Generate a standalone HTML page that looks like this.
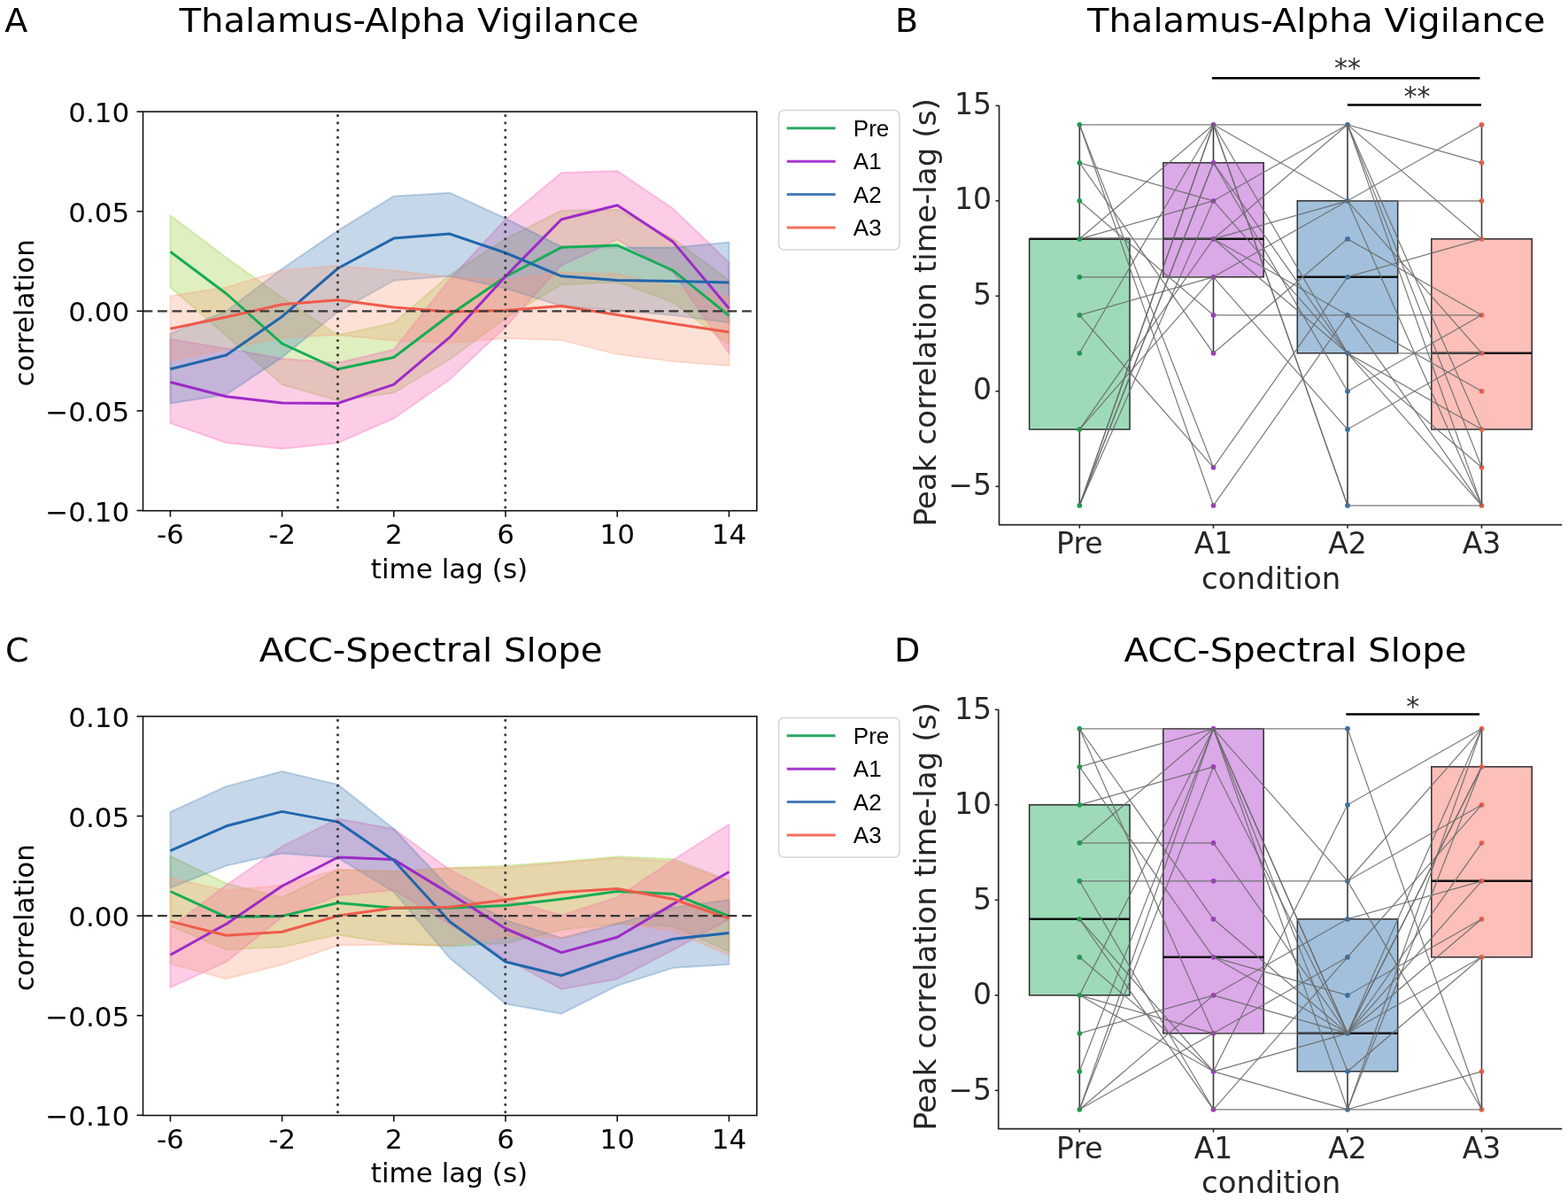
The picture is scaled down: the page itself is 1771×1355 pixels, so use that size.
<!DOCTYPE html>
<html><head><meta charset="utf-8"><title>Figure</title>
<style>html,body{margin:0;padding:0;background:#fff;} svg{display:block;}</style>
</head><body>
<svg width="1771" height="1355" viewBox="0 0 1771 1355">
<rect width="1771" height="1355" fill="#fff"/>
<defs><clipPath id="clipA"><rect x="161.5" y="126.1" width="693.3" height="450.6"/></clipPath></defs>
<g clip-path="url(#clipA)">
<path d="M192.40,243.20 L255.50,290.80 L318.60,336.00 L381.70,378.30 L444.80,364.50 L507.90,310.60 L571.00,269.60 L634.10,237.70 L697.20,236.70 L760.30,269.60 L823.40,316.40 L823.40,389.10 L760.30,341.30 L697.20,318.40 L634.10,321.40 L571.00,359.20 L507.90,406.00 L444.80,443.60 L381.70,452.40 L318.60,434.20 L255.50,379.00 L192.40,324.60 Z" fill="#94ca30" fill-opacity="0.3" stroke="#94ca30" stroke-opacity="0.3" stroke-width="2.0" stroke-linejoin="round"/>
<path d="M192.40,383.00 L255.50,393.50 L318.60,405.00 L381.70,409.70 L444.80,394.70 L507.90,315.60 L571.00,247.70 L634.10,194.90 L697.20,192.90 L760.30,235.70 L823.40,296.50 L823.40,399.10 L760.30,307.50 L697.20,270.60 L634.10,299.50 L571.00,369.20 L507.90,428.60 L444.80,472.50 L381.70,500.10 L318.60,506.70 L255.50,500.00 L192.40,477.90 Z" fill="#f858b2" fill-opacity="0.3" stroke="#f858b2" stroke-opacity="0.3" stroke-width="2.0" stroke-linejoin="round"/>
<path d="M192.40,376.60 L255.50,351.50 L318.60,303.50 L381.70,260.30 L444.80,221.40 L507.90,217.70 L571.00,246.50 L634.10,278.60 L697.20,279.60 L760.30,279.60 L823.40,273.60 L823.40,364.20 L760.30,356.00 L697.20,350.50 L634.10,345.50 L571.00,325.50 L507.90,311.80 L444.80,316.80 L381.70,352.00 L318.60,403.60 L255.50,445.50 L192.40,455.40 Z" fill="#3e7ab2" fill-opacity="0.3" stroke="#3e7ab2" stroke-opacity="0.3" stroke-width="2.0" stroke-linejoin="round"/>
<path d="M192.40,334.30 L255.50,324.60 L318.60,305.30 L381.70,300.00 L444.80,305.50 L507.90,313.10 L571.00,316.60 L634.10,307.50 L697.20,309.40 L760.30,323.40 L823.40,335.30 L823.40,413.00 L760.30,408.00 L697.20,400.10 L634.10,384.10 L571.00,381.90 L507.90,387.10 L444.80,384.60 L381.70,378.30 L318.60,381.00 L255.50,394.30 L192.40,407.60 Z" fill="#f89b7a" fill-opacity="0.3" stroke="#f89b7a" stroke-opacity="0.3" stroke-width="2.0" stroke-linejoin="round"/>
<polyline points="192.40,284.20 255.50,331.50 318.60,388.00 381.70,416.80 444.80,403.50 507.90,355.70 571.00,312.50 634.10,279.30 697.20,277.00 760.30,305.50 823.40,356.30" fill="none" stroke="#16ad55" stroke-width="3.0" stroke-linejoin="round" stroke-linecap="butt" />
<polyline points="192.40,431.50 255.50,447.80 318.60,455.00 381.70,455.40 444.80,434.10 507.90,380.90 571.00,312.00 634.10,247.70 697.20,231.80 760.30,273.20 823.40,348.30" fill="none" stroke="#9e2ac8" stroke-width="3.0" stroke-linejoin="round" stroke-linecap="butt" />
<polyline points="192.40,416.80 255.50,401.00 318.60,357.40 381.70,303.00 444.80,269.10 507.90,264.10 571.00,285.50 634.10,311.80 697.20,316.40 760.30,317.40 823.40,319.00" fill="none" stroke="#2066ad" stroke-width="3.0" stroke-linejoin="round" stroke-linecap="butt" />
<polyline points="192.40,371.20 255.50,358.00 318.60,343.70 381.70,338.80 444.80,347.00 507.90,352.00 571.00,350.60 634.10,345.50 697.20,355.50 760.30,365.50 823.40,375.00" fill="none" stroke="#ef5b4b" stroke-width="3.0" stroke-linejoin="round" stroke-linecap="butt" />
<line x1="161.50" y1="351.30" x2="854.80" y2="351.30" stroke="#383838" stroke-width="2.3" stroke-dasharray="10.8,5.7"/>
<line x1="381.50" y1="126.10" x2="381.50" y2="576.70" stroke="#404040" stroke-width="3.2" stroke-dasharray="0.01,8.18" stroke-dashoffset="-4.5" stroke-linecap="round"/>
<line x1="570.80" y1="126.10" x2="570.80" y2="576.70" stroke="#404040" stroke-width="3.2" stroke-dasharray="0.01,8.18" stroke-dashoffset="-4.5" stroke-linecap="round"/>
</g>
<rect x="161.5" y="126.1" width="693.3" height="450.6" fill="none" stroke="#111" stroke-width="1.6"/>
<line x1="192.40" y1="576.70" x2="192.40" y2="583.70" stroke="#111" stroke-width="1.6" />
<text x="192.4" y="614.3" font-size="31" text-anchor="middle" fill="#000" font-family="'DejaVu Sans', 'Liberation Sans', sans-serif" >-6</text>
<line x1="318.60" y1="576.70" x2="318.60" y2="583.70" stroke="#111" stroke-width="1.6" />
<text x="318.6" y="614.3" font-size="31" text-anchor="middle" fill="#000" font-family="'DejaVu Sans', 'Liberation Sans', sans-serif" >-2</text>
<line x1="444.80" y1="576.70" x2="444.80" y2="583.70" stroke="#111" stroke-width="1.6" />
<text x="444.8" y="614.3" font-size="31" text-anchor="middle" fill="#000" font-family="'DejaVu Sans', 'Liberation Sans', sans-serif" >2</text>
<line x1="571.00" y1="576.70" x2="571.00" y2="583.70" stroke="#111" stroke-width="1.6" />
<text x="571.0" y="614.3" font-size="31" text-anchor="middle" fill="#000" font-family="'DejaVu Sans', 'Liberation Sans', sans-serif" >6</text>
<line x1="697.20" y1="576.70" x2="697.20" y2="583.70" stroke="#111" stroke-width="1.6" />
<text x="697.2" y="614.3" font-size="31" text-anchor="middle" fill="#000" font-family="'DejaVu Sans', 'Liberation Sans', sans-serif" >10</text>
<line x1="823.40" y1="576.70" x2="823.40" y2="583.70" stroke="#111" stroke-width="1.6" />
<text x="823.4" y="614.3" font-size="31" text-anchor="middle" fill="#000" font-family="'DejaVu Sans', 'Liberation Sans', sans-serif" >14</text>
<line x1="154.50" y1="126.10" x2="161.50" y2="126.10" stroke="#111" stroke-width="1.6" />
<text x="146.3" y="138.2" font-size="31" text-anchor="end" fill="#000" font-family="'DejaVu Sans', 'Liberation Sans', sans-serif" >0.10</text>
<line x1="154.50" y1="238.70" x2="161.50" y2="238.70" stroke="#111" stroke-width="1.6" />
<text x="146.3" y="250.8" font-size="31" text-anchor="end" fill="#000" font-family="'DejaVu Sans', 'Liberation Sans', sans-serif" >0.05</text>
<line x1="154.50" y1="351.30" x2="161.50" y2="351.30" stroke="#111" stroke-width="1.6" />
<text x="146.3" y="363.4" font-size="31" text-anchor="end" fill="#000" font-family="'DejaVu Sans', 'Liberation Sans', sans-serif" >0.00</text>
<line x1="154.50" y1="463.90" x2="161.50" y2="463.90" stroke="#111" stroke-width="1.6" />
<text x="146.3" y="476.0" font-size="31" text-anchor="end" fill="#000" font-family="'DejaVu Sans', 'Liberation Sans', sans-serif" >−0.05</text>
<line x1="154.50" y1="576.50" x2="161.50" y2="576.50" stroke="#111" stroke-width="1.6" />
<text x="146.3" y="588.6" font-size="31" text-anchor="end" fill="#000" font-family="'DejaVu Sans', 'Liberation Sans', sans-serif" >−0.10</text>
<text x="507.5" y="652.6" font-size="31" text-anchor="middle" fill="#000" font-family="'DejaVu Sans', 'Liberation Sans', sans-serif" >time lag (s)</text>
<text x="37.8" y="353.4" font-size="31" text-anchor="middle" fill="#000" font-family="'DejaVu Sans', 'Liberation Sans', sans-serif" transform="rotate(-90 37.8 353.4)" >correlation</text>
<text x="202.5" y="35.6" font-size="38" text-anchor="start" fill="#000" font-family="'DejaVu Sans', 'Liberation Sans', sans-serif" textLength="519.0" lengthAdjust="spacingAndGlyphs" >Thalamus-Alpha Vigilance</text>
<text x="5.2" y="35.6" font-size="38" text-anchor="start" fill="#000" font-family="'DejaVu Sans', 'Liberation Sans', sans-serif" >A</text>
<rect x="879.5" y="124.5" width="136.5" height="157.5" rx="6" ry="6" fill="#fff" fill-opacity="0.8" stroke="#d6d6d6" stroke-width="1.6"/>
<line x1="888.70" y1="144.70" x2="943.60" y2="144.70" stroke="#2aa862" stroke-width="3.0" />
<text x="963.8" y="153.7" font-size="26" text-anchor="start" fill="#000" font-family="'Liberation Sans', Arial, sans-serif" >Pre</text>
<line x1="888.70" y1="182.15" x2="943.60" y2="182.15" stroke="#a638d0" stroke-width="3.0" />
<text x="963.8" y="191.1" font-size="26" text-anchor="start" fill="#000" font-family="'Liberation Sans', Arial, sans-serif" >A1</text>
<line x1="888.70" y1="219.60" x2="943.60" y2="219.60" stroke="#4a7db8" stroke-width="3.0" />
<text x="963.8" y="228.6" font-size="26" text-anchor="start" fill="#000" font-family="'Liberation Sans', Arial, sans-serif" >A2</text>
<line x1="888.70" y1="257.05" x2="943.60" y2="257.05" stroke="#f2705e" stroke-width="3.0" />
<text x="963.8" y="266.1" font-size="26" text-anchor="start" fill="#000" font-family="'Liberation Sans', Arial, sans-serif" >A3</text>
<defs><clipPath id="clipC"><rect x="161.5" y="808.9" width="693.3" height="450.6"/></clipPath></defs>
<g clip-path="url(#clipC)">
<path d="M192.40,966.60 L255.50,997.50 L318.60,1013.50 L381.70,982.00 L444.80,984.00 L507.90,980.00 L571.00,977.50 L634.10,972.90 L697.20,967.20 L760.30,970.10 L823.40,994.00 L823.40,1074.70 L760.30,1046.00 L697.20,1043.00 L634.10,1050.00 L571.00,1065.00 L507.90,1068.40 L444.80,1065.50 L381.70,1055.50 L318.60,1069.30 L255.50,1072.30 L192.40,1045.40 Z" fill="#94ca30" fill-opacity="0.3" stroke="#94ca30" stroke-opacity="0.3" stroke-width="2.0" stroke-linejoin="round"/>
<path d="M192.40,1047.40 L255.50,999.50 L318.60,955.70 L381.70,924.60 L444.80,936.00 L507.90,982.00 L571.00,1015.20 L634.10,1033.40 L697.20,1013.20 L760.30,971.00 L823.40,930.70 L823.40,1038.00 L760.30,1072.70 L697.20,1105.40 L634.10,1116.90 L571.00,1082.30 L507.90,1043.50 L444.80,1005.00 L381.70,1011.20 L318.60,1035.40 L255.50,1086.20 L192.40,1115.10 Z" fill="#f858b2" fill-opacity="0.3" stroke="#f858b2" stroke-opacity="0.3" stroke-width="2.0" stroke-linejoin="round"/>
<path d="M192.40,916.80 L255.50,887.90 L318.60,871.00 L381.70,885.90 L444.80,936.00 L507.90,1003.20 L571.00,1039.00 L634.10,1059.30 L697.20,1043.00 L760.30,1024.80 L823.40,1016.10 L823.40,1089.10 L760.30,1092.90 L697.20,1113.10 L634.10,1144.70 L571.00,1133.40 L507.90,1081.80 L444.80,1007.00 L381.70,968.60 L318.60,963.60 L255.50,977.60 L192.40,1002.50 Z" fill="#3e7ab2" fill-opacity="0.3" stroke="#3e7ab2" stroke-opacity="0.3" stroke-width="2.0" stroke-linejoin="round"/>
<path d="M192.40,991.60 L255.50,1005.50 L318.60,999.50 L381.70,982.00 L444.80,984.00 L507.90,980.20 L571.00,979.70 L634.10,973.90 L697.20,969.10 L760.30,972.90 L823.40,995.00 L823.40,1078.50 L760.30,1051.60 L697.20,1042.00 L634.10,1059.30 L571.00,1057.00 L507.90,1067.50 L444.80,1066.50 L381.70,1067.50 L318.60,1089.20 L255.50,1105.20 L192.40,1088.20 Z" fill="#f89b7a" fill-opacity="0.3" stroke="#f89b7a" stroke-opacity="0.3" stroke-width="2.0" stroke-linejoin="round"/>
<polyline points="192.40,1006.50 255.50,1035.40 318.60,1034.40 381.70,1019.50 444.80,1025.30 507.90,1025.30 571.00,1022.60 634.10,1015.20 697.20,1006.50 760.30,1009.40 823.40,1034.40" fill="none" stroke="#16ad55" stroke-width="3.0" stroke-linejoin="round" stroke-linecap="butt" />
<polyline points="192.40,1078.30 255.50,1043.40 318.60,1000.50 381.70,968.00 444.80,970.60 507.90,1008.90 571.00,1048.50 634.10,1075.60 697.20,1058.30 760.30,1020.90 823.40,984.50" fill="none" stroke="#9e2ac8" stroke-width="3.0" stroke-linejoin="round" stroke-linecap="butt" />
<polyline points="192.40,960.70 255.50,932.80 318.60,916.40 381.70,928.10 444.80,971.50 507.90,1040.60 571.00,1086.00 634.10,1101.50 697.20,1079.50 760.30,1060.30 823.40,1053.60" fill="none" stroke="#2066ad" stroke-width="3.0" stroke-linejoin="round" stroke-linecap="butt" />
<polyline points="192.40,1040.40 255.50,1056.30 318.60,1052.30 381.70,1034.10 444.80,1025.30 507.90,1024.30 571.00,1015.90 634.10,1007.50 697.20,1003.60 760.30,1015.20 823.40,1037.20" fill="none" stroke="#ef5b4b" stroke-width="3.0" stroke-linejoin="round" stroke-linecap="butt" />
<line x1="161.50" y1="1034.10" x2="854.80" y2="1034.10" stroke="#383838" stroke-width="2.3" stroke-dasharray="10.8,5.7"/>
<line x1="381.50" y1="808.90" x2="381.50" y2="1259.50" stroke="#404040" stroke-width="3.2" stroke-dasharray="0.01,8.18" stroke-dashoffset="-4.5" stroke-linecap="round"/>
<line x1="570.80" y1="808.90" x2="570.80" y2="1259.50" stroke="#404040" stroke-width="3.2" stroke-dasharray="0.01,8.18" stroke-dashoffset="-4.5" stroke-linecap="round"/>
</g>
<rect x="161.5" y="808.9" width="693.3" height="450.6" fill="none" stroke="#111" stroke-width="1.6"/>
<line x1="192.40" y1="1259.50" x2="192.40" y2="1266.50" stroke="#111" stroke-width="1.6" />
<text x="192.4" y="1297.1" font-size="31" text-anchor="middle" fill="#000" font-family="'DejaVu Sans', 'Liberation Sans', sans-serif" >-6</text>
<line x1="318.60" y1="1259.50" x2="318.60" y2="1266.50" stroke="#111" stroke-width="1.6" />
<text x="318.6" y="1297.1" font-size="31" text-anchor="middle" fill="#000" font-family="'DejaVu Sans', 'Liberation Sans', sans-serif" >-2</text>
<line x1="444.80" y1="1259.50" x2="444.80" y2="1266.50" stroke="#111" stroke-width="1.6" />
<text x="444.8" y="1297.1" font-size="31" text-anchor="middle" fill="#000" font-family="'DejaVu Sans', 'Liberation Sans', sans-serif" >2</text>
<line x1="571.00" y1="1259.50" x2="571.00" y2="1266.50" stroke="#111" stroke-width="1.6" />
<text x="571.0" y="1297.1" font-size="31" text-anchor="middle" fill="#000" font-family="'DejaVu Sans', 'Liberation Sans', sans-serif" >6</text>
<line x1="697.20" y1="1259.50" x2="697.20" y2="1266.50" stroke="#111" stroke-width="1.6" />
<text x="697.2" y="1297.1" font-size="31" text-anchor="middle" fill="#000" font-family="'DejaVu Sans', 'Liberation Sans', sans-serif" >10</text>
<line x1="823.40" y1="1259.50" x2="823.40" y2="1266.50" stroke="#111" stroke-width="1.6" />
<text x="823.4" y="1297.1" font-size="31" text-anchor="middle" fill="#000" font-family="'DejaVu Sans', 'Liberation Sans', sans-serif" >14</text>
<line x1="154.50" y1="808.90" x2="161.50" y2="808.90" stroke="#111" stroke-width="1.6" />
<text x="146.3" y="821.0" font-size="31" text-anchor="end" fill="#000" font-family="'DejaVu Sans', 'Liberation Sans', sans-serif" >0.10</text>
<line x1="154.50" y1="921.50" x2="161.50" y2="921.50" stroke="#111" stroke-width="1.6" />
<text x="146.3" y="933.6" font-size="31" text-anchor="end" fill="#000" font-family="'DejaVu Sans', 'Liberation Sans', sans-serif" >0.05</text>
<line x1="154.50" y1="1034.10" x2="161.50" y2="1034.10" stroke="#111" stroke-width="1.6" />
<text x="146.3" y="1046.2" font-size="31" text-anchor="end" fill="#000" font-family="'DejaVu Sans', 'Liberation Sans', sans-serif" >0.00</text>
<line x1="154.50" y1="1146.70" x2="161.50" y2="1146.70" stroke="#111" stroke-width="1.6" />
<text x="146.3" y="1158.8" font-size="31" text-anchor="end" fill="#000" font-family="'DejaVu Sans', 'Liberation Sans', sans-serif" >−0.05</text>
<line x1="154.50" y1="1259.30" x2="161.50" y2="1259.30" stroke="#111" stroke-width="1.6" />
<text x="146.3" y="1271.4" font-size="31" text-anchor="end" fill="#000" font-family="'DejaVu Sans', 'Liberation Sans', sans-serif" >−0.10</text>
<text x="507.5" y="1335.4" font-size="31" text-anchor="middle" fill="#000" font-family="'DejaVu Sans', 'Liberation Sans', sans-serif" >time lag (s)</text>
<text x="37.8" y="1036.2" font-size="31" text-anchor="middle" fill="#000" font-family="'DejaVu Sans', 'Liberation Sans', sans-serif" transform="rotate(-90 37.8 1036.2)" >correlation</text>
<text x="292.8" y="747.2" font-size="38" text-anchor="start" fill="#000" font-family="'DejaVu Sans', 'Liberation Sans', sans-serif" textLength="387.7" lengthAdjust="spacingAndGlyphs" >ACC-Spectral Slope</text>
<text x="6.0" y="747.2" font-size="38" text-anchor="start" fill="#000" font-family="'DejaVu Sans', 'Liberation Sans', sans-serif" >C</text>
<rect x="879.5" y="810.5" width="136.5" height="157.5" rx="6" ry="6" fill="#fff" fill-opacity="0.8" stroke="#d6d6d6" stroke-width="1.6"/>
<line x1="888.70" y1="830.70" x2="943.60" y2="830.70" stroke="#2aa862" stroke-width="3.0" />
<text x="963.8" y="839.7" font-size="26" text-anchor="start" fill="#000" font-family="'Liberation Sans', Arial, sans-serif" >Pre</text>
<line x1="888.70" y1="868.15" x2="943.60" y2="868.15" stroke="#a638d0" stroke-width="3.0" />
<text x="963.8" y="877.2" font-size="26" text-anchor="start" fill="#000" font-family="'Liberation Sans', Arial, sans-serif" >A1</text>
<line x1="888.70" y1="905.60" x2="943.60" y2="905.60" stroke="#4a7db8" stroke-width="3.0" />
<text x="963.8" y="914.6" font-size="26" text-anchor="start" fill="#000" font-family="'Liberation Sans', Arial, sans-serif" >A2</text>
<line x1="888.70" y1="943.05" x2="943.60" y2="943.05" stroke="#f2705e" stroke-width="3.0" />
<text x="963.8" y="952.1" font-size="26" text-anchor="start" fill="#000" font-family="'Liberation Sans', Arial, sans-serif" >A3</text>
<line x1="1219.30" y1="269.80" x2="1219.30" y2="140.80" stroke="#3a3a3a" stroke-width="1.6" />
<line x1="1219.30" y1="484.80" x2="1219.30" y2="570.80" stroke="#3a3a3a" stroke-width="1.6" />
<rect x="1162.60" y="269.80" width="113.40" height="215.00" fill="#9edab8" stroke="#2e2e2e" stroke-width="1.5"/>
<line x1="1162.60" y1="269.80" x2="1276.00" y2="269.80" stroke="#111" stroke-width="2.6" />
<line x1="1370.50" y1="183.80" x2="1370.50" y2="140.80" stroke="#3a3a3a" stroke-width="1.6" />
<line x1="1370.50" y1="312.80" x2="1370.50" y2="398.80" stroke="#3a3a3a" stroke-width="1.6" />
<rect x="1313.80" y="183.80" width="113.40" height="129.00" fill="#dba8e8" stroke="#2e2e2e" stroke-width="1.5"/>
<line x1="1313.80" y1="269.80" x2="1427.20" y2="269.80" stroke="#111" stroke-width="2.6" />
<line x1="1522.00" y1="226.80" x2="1522.00" y2="140.80" stroke="#3a3a3a" stroke-width="1.6" />
<line x1="1522.00" y1="398.80" x2="1522.00" y2="570.80" stroke="#3a3a3a" stroke-width="1.6" />
<rect x="1465.30" y="226.80" width="113.40" height="172.00" fill="#a2c0db" stroke="#2e2e2e" stroke-width="1.5"/>
<line x1="1465.30" y1="312.80" x2="1578.70" y2="312.80" stroke="#111" stroke-width="2.6" />
<line x1="1673.50" y1="269.80" x2="1673.50" y2="140.80" stroke="#3a3a3a" stroke-width="1.6" />
<line x1="1673.50" y1="484.80" x2="1673.50" y2="570.80" stroke="#3a3a3a" stroke-width="1.6" />
<rect x="1616.80" y="269.80" width="113.40" height="215.00" fill="#fcbfb9" stroke="#2e2e2e" stroke-width="1.5"/>
<line x1="1616.80" y1="398.80" x2="1730.20" y2="398.80" stroke="#111" stroke-width="2.6" />
<circle cx="1219.30" cy="140.80" r="2.9" fill="#18a050"/>
<circle cx="1219.30" cy="183.80" r="2.9" fill="#18a050"/>
<circle cx="1219.30" cy="226.80" r="2.9" fill="#18a050"/>
<circle cx="1219.30" cy="269.80" r="2.9" fill="#18a050"/>
<circle cx="1219.30" cy="312.80" r="2.9" fill="#18a050"/>
<circle cx="1219.30" cy="355.80" r="2.9" fill="#18a050"/>
<circle cx="1219.30" cy="398.80" r="2.9" fill="#18a050"/>
<circle cx="1219.30" cy="484.80" r="2.9" fill="#18a050"/>
<circle cx="1219.30" cy="570.80" r="2.9" fill="#18a050"/>
<circle cx="1370.50" cy="140.80" r="2.9" fill="#a636c8"/>
<circle cx="1370.50" cy="183.80" r="2.9" fill="#a636c8"/>
<circle cx="1370.50" cy="226.80" r="2.9" fill="#a636c8"/>
<circle cx="1370.50" cy="269.80" r="2.9" fill="#a636c8"/>
<circle cx="1370.50" cy="312.80" r="2.9" fill="#a636c8"/>
<circle cx="1370.50" cy="355.80" r="2.9" fill="#a636c8"/>
<circle cx="1370.50" cy="398.80" r="2.9" fill="#a636c8"/>
<circle cx="1370.50" cy="527.80" r="2.9" fill="#a636c8"/>
<circle cx="1370.50" cy="570.80" r="2.9" fill="#a636c8"/>
<circle cx="1522.00" cy="140.80" r="2.9" fill="#3070b0"/>
<circle cx="1522.00" cy="226.80" r="2.9" fill="#3070b0"/>
<circle cx="1522.00" cy="269.80" r="2.9" fill="#3070b0"/>
<circle cx="1522.00" cy="312.80" r="2.9" fill="#3070b0"/>
<circle cx="1522.00" cy="355.80" r="2.9" fill="#3070b0"/>
<circle cx="1522.00" cy="398.80" r="2.9" fill="#3070b0"/>
<circle cx="1522.00" cy="441.80" r="2.9" fill="#3070b0"/>
<circle cx="1522.00" cy="484.80" r="2.9" fill="#3070b0"/>
<circle cx="1522.00" cy="570.80" r="2.9" fill="#3070b0"/>
<circle cx="1673.50" cy="140.80" r="2.9" fill="#f0604c"/>
<circle cx="1673.50" cy="183.80" r="2.9" fill="#f0604c"/>
<circle cx="1673.50" cy="226.80" r="2.9" fill="#f0604c"/>
<circle cx="1673.50" cy="269.80" r="2.9" fill="#f0604c"/>
<circle cx="1673.50" cy="355.80" r="2.9" fill="#f0604c"/>
<circle cx="1673.50" cy="398.80" r="2.9" fill="#f0604c"/>
<circle cx="1673.50" cy="441.80" r="2.9" fill="#f0604c"/>
<circle cx="1673.50" cy="484.80" r="2.9" fill="#f0604c"/>
<circle cx="1673.50" cy="527.80" r="2.9" fill="#f0604c"/>
<circle cx="1673.50" cy="570.80" r="2.9" fill="#f0604c"/>
<line x1="1219.30" y1="140.80" x2="1370.50" y2="140.80" stroke="#6a6a6a" stroke-width="1.2" stroke-opacity="0.9"/>
<line x1="1219.30" y1="140.80" x2="1370.50" y2="527.80" stroke="#6a6a6a" stroke-width="1.2" stroke-opacity="0.9"/>
<line x1="1219.30" y1="140.80" x2="1370.50" y2="570.80" stroke="#6a6a6a" stroke-width="1.2" stroke-opacity="0.9"/>
<line x1="1219.30" y1="183.80" x2="1370.50" y2="226.80" stroke="#6a6a6a" stroke-width="1.2" stroke-opacity="0.9"/>
<line x1="1219.30" y1="183.80" x2="1370.50" y2="398.80" stroke="#6a6a6a" stroke-width="1.2" stroke-opacity="0.9"/>
<line x1="1219.30" y1="226.80" x2="1370.50" y2="355.80" stroke="#6a6a6a" stroke-width="1.2" stroke-opacity="0.9"/>
<line x1="1219.30" y1="269.80" x2="1370.50" y2="140.80" stroke="#6a6a6a" stroke-width="1.2" stroke-opacity="0.9"/>
<line x1="1219.30" y1="269.80" x2="1370.50" y2="226.80" stroke="#6a6a6a" stroke-width="1.2" stroke-opacity="0.9"/>
<line x1="1219.30" y1="269.80" x2="1370.50" y2="269.80" stroke="#6a6a6a" stroke-width="1.2" stroke-opacity="0.9"/>
<line x1="1219.30" y1="312.80" x2="1370.50" y2="312.80" stroke="#6a6a6a" stroke-width="1.2" stroke-opacity="0.9"/>
<line x1="1219.30" y1="355.80" x2="1370.50" y2="312.80" stroke="#6a6a6a" stroke-width="1.2" stroke-opacity="0.9"/>
<line x1="1219.30" y1="355.80" x2="1370.50" y2="527.80" stroke="#6a6a6a" stroke-width="1.2" stroke-opacity="0.9"/>
<line x1="1219.30" y1="398.80" x2="1370.50" y2="140.80" stroke="#6a6a6a" stroke-width="1.2" stroke-opacity="0.9"/>
<line x1="1219.30" y1="484.80" x2="1370.50" y2="269.80" stroke="#6a6a6a" stroke-width="1.2" stroke-opacity="0.9"/>
<line x1="1219.30" y1="484.80" x2="1370.50" y2="312.80" stroke="#6a6a6a" stroke-width="1.2" stroke-opacity="0.9"/>
<line x1="1219.30" y1="570.80" x2="1370.50" y2="140.80" stroke="#6a6a6a" stroke-width="1.2" stroke-opacity="0.9"/>
<line x1="1219.30" y1="570.80" x2="1370.50" y2="140.80" stroke="#6a6a6a" stroke-width="1.2" stroke-opacity="0.9"/>
<line x1="1219.30" y1="570.80" x2="1370.50" y2="183.80" stroke="#6a6a6a" stroke-width="1.2" stroke-opacity="0.9"/>
<line x1="1219.30" y1="570.80" x2="1370.50" y2="183.80" stroke="#6a6a6a" stroke-width="1.2" stroke-opacity="0.9"/>
<line x1="1219.30" y1="570.80" x2="1370.50" y2="226.80" stroke="#6a6a6a" stroke-width="1.2" stroke-opacity="0.9"/>
<line x1="1370.50" y1="140.80" x2="1522.00" y2="140.80" stroke="#6a6a6a" stroke-width="1.2" stroke-opacity="0.9"/>
<line x1="1370.50" y1="140.80" x2="1522.00" y2="226.80" stroke="#6a6a6a" stroke-width="1.2" stroke-opacity="0.9"/>
<line x1="1370.50" y1="140.80" x2="1522.00" y2="398.80" stroke="#6a6a6a" stroke-width="1.2" stroke-opacity="0.9"/>
<line x1="1370.50" y1="140.80" x2="1522.00" y2="570.80" stroke="#6a6a6a" stroke-width="1.2" stroke-opacity="0.9"/>
<line x1="1370.50" y1="140.80" x2="1522.00" y2="570.80" stroke="#6a6a6a" stroke-width="1.2" stroke-opacity="0.9"/>
<line x1="1370.50" y1="183.80" x2="1522.00" y2="398.80" stroke="#6a6a6a" stroke-width="1.2" stroke-opacity="0.9"/>
<line x1="1370.50" y1="183.80" x2="1522.00" y2="441.80" stroke="#6a6a6a" stroke-width="1.2" stroke-opacity="0.9"/>
<line x1="1370.50" y1="226.80" x2="1522.00" y2="140.80" stroke="#6a6a6a" stroke-width="1.2" stroke-opacity="0.9"/>
<line x1="1370.50" y1="226.80" x2="1522.00" y2="398.80" stroke="#6a6a6a" stroke-width="1.2" stroke-opacity="0.9"/>
<line x1="1370.50" y1="269.80" x2="1522.00" y2="140.80" stroke="#6a6a6a" stroke-width="1.2" stroke-opacity="0.9"/>
<line x1="1370.50" y1="269.80" x2="1522.00" y2="226.80" stroke="#6a6a6a" stroke-width="1.2" stroke-opacity="0.9"/>
<line x1="1370.50" y1="269.80" x2="1522.00" y2="355.80" stroke="#6a6a6a" stroke-width="1.2" stroke-opacity="0.9"/>
<line x1="1370.50" y1="269.80" x2="1522.00" y2="398.80" stroke="#6a6a6a" stroke-width="1.2" stroke-opacity="0.9"/>
<line x1="1370.50" y1="312.80" x2="1522.00" y2="226.80" stroke="#6a6a6a" stroke-width="1.2" stroke-opacity="0.9"/>
<line x1="1370.50" y1="312.80" x2="1522.00" y2="484.80" stroke="#6a6a6a" stroke-width="1.2" stroke-opacity="0.9"/>
<line x1="1370.50" y1="355.80" x2="1522.00" y2="355.80" stroke="#6a6a6a" stroke-width="1.2" stroke-opacity="0.9"/>
<line x1="1370.50" y1="398.80" x2="1522.00" y2="269.80" stroke="#6a6a6a" stroke-width="1.2" stroke-opacity="0.9"/>
<line x1="1370.50" y1="527.80" x2="1522.00" y2="312.80" stroke="#6a6a6a" stroke-width="1.2" stroke-opacity="0.9"/>
<line x1="1370.50" y1="570.80" x2="1522.00" y2="355.80" stroke="#6a6a6a" stroke-width="1.2" stroke-opacity="0.9"/>
<line x1="1522.00" y1="140.80" x2="1673.50" y2="183.80" stroke="#6a6a6a" stroke-width="1.2" stroke-opacity="0.9"/>
<line x1="1522.00" y1="140.80" x2="1673.50" y2="269.80" stroke="#6a6a6a" stroke-width="1.2" stroke-opacity="0.9"/>
<line x1="1522.00" y1="140.80" x2="1673.50" y2="484.80" stroke="#6a6a6a" stroke-width="1.2" stroke-opacity="0.9"/>
<line x1="1522.00" y1="140.80" x2="1673.50" y2="527.80" stroke="#6a6a6a" stroke-width="1.2" stroke-opacity="0.9"/>
<line x1="1522.00" y1="140.80" x2="1673.50" y2="570.80" stroke="#6a6a6a" stroke-width="1.2" stroke-opacity="0.9"/>
<line x1="1522.00" y1="226.80" x2="1673.50" y2="140.80" stroke="#6a6a6a" stroke-width="1.2" stroke-opacity="0.9"/>
<line x1="1522.00" y1="226.80" x2="1673.50" y2="398.80" stroke="#6a6a6a" stroke-width="1.2" stroke-opacity="0.9"/>
<line x1="1522.00" y1="226.80" x2="1673.50" y2="570.80" stroke="#6a6a6a" stroke-width="1.2" stroke-opacity="0.9"/>
<line x1="1522.00" y1="226.80" x2="1673.50" y2="226.80" stroke="#6a6a6a" stroke-width="1.2" stroke-opacity="0.9"/>
<line x1="1522.00" y1="269.80" x2="1673.50" y2="355.80" stroke="#6a6a6a" stroke-width="1.2" stroke-opacity="0.9"/>
<line x1="1522.00" y1="312.80" x2="1673.50" y2="269.80" stroke="#6a6a6a" stroke-width="1.2" stroke-opacity="0.9"/>
<line x1="1522.00" y1="355.80" x2="1673.50" y2="355.80" stroke="#6a6a6a" stroke-width="1.2" stroke-opacity="0.9"/>
<line x1="1522.00" y1="355.80" x2="1673.50" y2="441.80" stroke="#6a6a6a" stroke-width="1.2" stroke-opacity="0.9"/>
<line x1="1522.00" y1="355.80" x2="1673.50" y2="570.80" stroke="#6a6a6a" stroke-width="1.2" stroke-opacity="0.9"/>
<line x1="1522.00" y1="398.80" x2="1673.50" y2="484.80" stroke="#6a6a6a" stroke-width="1.2" stroke-opacity="0.9"/>
<line x1="1522.00" y1="398.80" x2="1673.50" y2="527.80" stroke="#6a6a6a" stroke-width="1.2" stroke-opacity="0.9"/>
<line x1="1522.00" y1="398.80" x2="1673.50" y2="570.80" stroke="#6a6a6a" stroke-width="1.2" stroke-opacity="0.9"/>
<line x1="1522.00" y1="398.80" x2="1673.50" y2="398.80" stroke="#6a6a6a" stroke-width="1.2" stroke-opacity="0.9"/>
<line x1="1522.00" y1="441.80" x2="1673.50" y2="355.80" stroke="#6a6a6a" stroke-width="1.2" stroke-opacity="0.9"/>
<line x1="1522.00" y1="484.80" x2="1673.50" y2="398.80" stroke="#6a6a6a" stroke-width="1.2" stroke-opacity="0.9"/>
<line x1="1522.00" y1="570.80" x2="1673.50" y2="570.80" stroke="#6a6a6a" stroke-width="1.2" stroke-opacity="0.9"/>
<path d="M1128.5,119.0 L1128.5,592.6 L1764.2,592.6" fill="none" stroke="#262626" stroke-width="1.7" stroke-linejoin="round"/>
<line x1="1124.50" y1="119.30" x2="1128.50" y2="119.30" stroke="#262626" stroke-width="1.6" />
<text x="1120.0" y="128.7" font-size="33" text-anchor="end" fill="#262626" font-family="'DejaVu Sans', 'Liberation Sans', sans-serif" >15</text>
<line x1="1124.50" y1="226.80" x2="1128.50" y2="226.80" stroke="#262626" stroke-width="1.6" />
<text x="1120.0" y="236.2" font-size="33" text-anchor="end" fill="#262626" font-family="'DejaVu Sans', 'Liberation Sans', sans-serif" >10</text>
<line x1="1124.50" y1="334.30" x2="1128.50" y2="334.30" stroke="#262626" stroke-width="1.6" />
<text x="1120.0" y="343.7" font-size="33" text-anchor="end" fill="#262626" font-family="'DejaVu Sans', 'Liberation Sans', sans-serif" >5</text>
<line x1="1124.50" y1="441.80" x2="1128.50" y2="441.80" stroke="#262626" stroke-width="1.6" />
<text x="1120.0" y="451.2" font-size="33" text-anchor="end" fill="#262626" font-family="'DejaVu Sans', 'Liberation Sans', sans-serif" >0</text>
<line x1="1124.50" y1="549.30" x2="1128.50" y2="549.30" stroke="#262626" stroke-width="1.6" />
<text x="1120.0" y="558.7" font-size="33" text-anchor="end" fill="#262626" font-family="'DejaVu Sans', 'Liberation Sans', sans-serif" >−5</text>
<line x1="1219.30" y1="592.60" x2="1219.30" y2="596.60" stroke="#262626" stroke-width="1.6" />
<text x="1219.3" y="625.0" font-size="33" text-anchor="middle" fill="#262626" font-family="'DejaVu Sans', 'Liberation Sans', sans-serif" >Pre</text>
<line x1="1370.50" y1="592.60" x2="1370.50" y2="596.60" stroke="#262626" stroke-width="1.6" />
<text x="1370.5" y="625.0" font-size="33" text-anchor="middle" fill="#262626" font-family="'DejaVu Sans', 'Liberation Sans', sans-serif" >A1</text>
<line x1="1522.00" y1="592.60" x2="1522.00" y2="596.60" stroke="#262626" stroke-width="1.6" />
<text x="1522.0" y="625.0" font-size="33" text-anchor="middle" fill="#262626" font-family="'DejaVu Sans', 'Liberation Sans', sans-serif" >A2</text>
<line x1="1673.50" y1="592.60" x2="1673.50" y2="596.60" stroke="#262626" stroke-width="1.6" />
<text x="1673.5" y="625.0" font-size="33" text-anchor="middle" fill="#262626" font-family="'DejaVu Sans', 'Liberation Sans', sans-serif" >A3</text>
<text x="1435.7" y="664.6" font-size="34" text-anchor="middle" fill="#262626" font-family="'DejaVu Sans', 'Liberation Sans', sans-serif" >condition</text>
<text x="1057.3" y="352.9" font-size="34.2" text-anchor="middle" fill="#262626" font-family="'DejaVu Sans', 'Liberation Sans', sans-serif" transform="rotate(-90 1057.3 352.9)" >Peak correlation time-lag (s)</text>
<text x="1228.0" y="35.6" font-size="38" text-anchor="start" fill="#000" font-family="'DejaVu Sans', 'Liberation Sans', sans-serif" textLength="517.5" lengthAdjust="spacingAndGlyphs" >Thalamus-Alpha Vigilance</text>
<text x="1011.0" y="35.6" font-size="38" text-anchor="start" fill="#000" font-family="'DejaVu Sans', 'Liberation Sans', sans-serif" >B</text>
<line x1="1368.80" y1="88.20" x2="1671.50" y2="88.20" stroke="#000" stroke-width="2.5" />
<text x="1521.9" y="87.0" font-size="30" text-anchor="middle" fill="#333" font-family="'DejaVu Sans', 'Liberation Sans', sans-serif" >**</text>
<line x1="1521.90" y1="118.60" x2="1673.00" y2="118.60" stroke="#000" stroke-width="2.5" />
<text x="1600.5" y="118.7" font-size="30" text-anchor="middle" fill="#333" font-family="'DejaVu Sans', 'Liberation Sans', sans-serif" >**</text>
<line x1="1219.30" y1="908.80" x2="1219.30" y2="822.80" stroke="#3a3a3a" stroke-width="1.6" />
<line x1="1219.30" y1="1123.80" x2="1219.30" y2="1252.80" stroke="#3a3a3a" stroke-width="1.6" />
<rect x="1162.60" y="908.80" width="113.40" height="215.00" fill="#9edab8" stroke="#2e2e2e" stroke-width="1.5"/>
<line x1="1162.60" y1="1037.80" x2="1276.00" y2="1037.80" stroke="#111" stroke-width="2.6" />
<line x1="1370.50" y1="822.80" x2="1370.50" y2="822.80" stroke="#3a3a3a" stroke-width="1.6" />
<line x1="1370.50" y1="1166.80" x2="1370.50" y2="1252.80" stroke="#3a3a3a" stroke-width="1.6" />
<rect x="1313.80" y="822.80" width="113.40" height="344.00" fill="#dba8e8" stroke="#2e2e2e" stroke-width="1.5"/>
<line x1="1313.80" y1="1080.80" x2="1427.20" y2="1080.80" stroke="#111" stroke-width="2.6" />
<line x1="1522.00" y1="1037.80" x2="1522.00" y2="822.80" stroke="#3a3a3a" stroke-width="1.6" />
<line x1="1522.00" y1="1209.80" x2="1522.00" y2="1252.80" stroke="#3a3a3a" stroke-width="1.6" />
<rect x="1465.30" y="1037.80" width="113.40" height="172.00" fill="#a2c0db" stroke="#2e2e2e" stroke-width="1.5"/>
<line x1="1465.30" y1="1166.80" x2="1578.70" y2="1166.80" stroke="#111" stroke-width="2.6" />
<line x1="1673.50" y1="865.80" x2="1673.50" y2="822.80" stroke="#3a3a3a" stroke-width="1.6" />
<line x1="1673.50" y1="1080.80" x2="1673.50" y2="1252.80" stroke="#3a3a3a" stroke-width="1.6" />
<rect x="1616.80" y="865.80" width="113.40" height="215.00" fill="#fcbfb9" stroke="#2e2e2e" stroke-width="1.5"/>
<line x1="1616.80" y1="994.80" x2="1730.20" y2="994.80" stroke="#111" stroke-width="2.6" />
<circle cx="1219.30" cy="822.80" r="2.9" fill="#18a050"/>
<circle cx="1219.30" cy="865.80" r="2.9" fill="#18a050"/>
<circle cx="1219.30" cy="908.80" r="2.9" fill="#18a050"/>
<circle cx="1219.30" cy="951.80" r="2.9" fill="#18a050"/>
<circle cx="1219.30" cy="994.80" r="2.9" fill="#18a050"/>
<circle cx="1219.30" cy="1037.80" r="2.9" fill="#18a050"/>
<circle cx="1219.30" cy="1080.80" r="2.9" fill="#18a050"/>
<circle cx="1219.30" cy="1123.80" r="2.9" fill="#18a050"/>
<circle cx="1219.30" cy="1166.80" r="2.9" fill="#18a050"/>
<circle cx="1219.30" cy="1209.80" r="2.9" fill="#18a050"/>
<circle cx="1219.30" cy="1252.80" r="2.9" fill="#18a050"/>
<circle cx="1370.50" cy="822.80" r="2.9" fill="#a636c8"/>
<circle cx="1370.50" cy="865.80" r="2.9" fill="#a636c8"/>
<circle cx="1370.50" cy="951.80" r="2.9" fill="#a636c8"/>
<circle cx="1370.50" cy="994.80" r="2.9" fill="#a636c8"/>
<circle cx="1370.50" cy="1037.80" r="2.9" fill="#a636c8"/>
<circle cx="1370.50" cy="1080.80" r="2.9" fill="#a636c8"/>
<circle cx="1370.50" cy="1123.80" r="2.9" fill="#a636c8"/>
<circle cx="1370.50" cy="1166.80" r="2.9" fill="#a636c8"/>
<circle cx="1370.50" cy="1209.80" r="2.9" fill="#a636c8"/>
<circle cx="1370.50" cy="1252.80" r="2.9" fill="#a636c8"/>
<circle cx="1522.00" cy="822.80" r="2.9" fill="#3070b0"/>
<circle cx="1522.00" cy="908.80" r="2.9" fill="#3070b0"/>
<circle cx="1522.00" cy="994.80" r="2.9" fill="#3070b0"/>
<circle cx="1522.00" cy="1037.80" r="2.9" fill="#3070b0"/>
<circle cx="1522.00" cy="1080.80" r="2.9" fill="#3070b0"/>
<circle cx="1522.00" cy="1123.80" r="2.9" fill="#3070b0"/>
<circle cx="1522.00" cy="1166.80" r="2.9" fill="#3070b0"/>
<circle cx="1522.00" cy="1209.80" r="2.9" fill="#3070b0"/>
<circle cx="1522.00" cy="1252.80" r="2.9" fill="#3070b0"/>
<circle cx="1673.50" cy="822.80" r="2.9" fill="#f0604c"/>
<circle cx="1673.50" cy="865.80" r="2.9" fill="#f0604c"/>
<circle cx="1673.50" cy="908.80" r="2.9" fill="#f0604c"/>
<circle cx="1673.50" cy="951.80" r="2.9" fill="#f0604c"/>
<circle cx="1673.50" cy="994.80" r="2.9" fill="#f0604c"/>
<circle cx="1673.50" cy="1037.80" r="2.9" fill="#f0604c"/>
<circle cx="1673.50" cy="1080.80" r="2.9" fill="#f0604c"/>
<circle cx="1673.50" cy="1209.80" r="2.9" fill="#f0604c"/>
<circle cx="1673.50" cy="1252.80" r="2.9" fill="#f0604c"/>
<line x1="1219.30" y1="822.80" x2="1370.50" y2="822.80" stroke="#6a6a6a" stroke-width="1.2" stroke-opacity="0.9"/>
<line x1="1219.30" y1="822.80" x2="1370.50" y2="1037.80" stroke="#6a6a6a" stroke-width="1.2" stroke-opacity="0.9"/>
<line x1="1219.30" y1="822.80" x2="1370.50" y2="1166.80" stroke="#6a6a6a" stroke-width="1.2" stroke-opacity="0.9"/>
<line x1="1219.30" y1="865.80" x2="1370.50" y2="822.80" stroke="#6a6a6a" stroke-width="1.2" stroke-opacity="0.9"/>
<line x1="1219.30" y1="865.80" x2="1370.50" y2="1080.80" stroke="#6a6a6a" stroke-width="1.2" stroke-opacity="0.9"/>
<line x1="1219.30" y1="908.80" x2="1370.50" y2="865.80" stroke="#6a6a6a" stroke-width="1.2" stroke-opacity="0.9"/>
<line x1="1219.30" y1="951.80" x2="1370.50" y2="951.80" stroke="#6a6a6a" stroke-width="1.2" stroke-opacity="0.9"/>
<line x1="1219.30" y1="951.80" x2="1370.50" y2="822.80" stroke="#6a6a6a" stroke-width="1.2" stroke-opacity="0.9"/>
<line x1="1219.30" y1="994.80" x2="1370.50" y2="994.80" stroke="#6a6a6a" stroke-width="1.2" stroke-opacity="0.9"/>
<line x1="1219.30" y1="994.80" x2="1370.50" y2="1252.80" stroke="#6a6a6a" stroke-width="1.2" stroke-opacity="0.9"/>
<line x1="1219.30" y1="1037.80" x2="1370.50" y2="1209.80" stroke="#6a6a6a" stroke-width="1.2" stroke-opacity="0.9"/>
<line x1="1219.30" y1="1037.80" x2="1370.50" y2="1252.80" stroke="#6a6a6a" stroke-width="1.2" stroke-opacity="0.9"/>
<line x1="1219.30" y1="1080.80" x2="1370.50" y2="1209.80" stroke="#6a6a6a" stroke-width="1.2" stroke-opacity="0.9"/>
<line x1="1219.30" y1="1123.80" x2="1370.50" y2="822.80" stroke="#6a6a6a" stroke-width="1.2" stroke-opacity="0.9"/>
<line x1="1219.30" y1="1123.80" x2="1370.50" y2="1166.80" stroke="#6a6a6a" stroke-width="1.2" stroke-opacity="0.9"/>
<line x1="1219.30" y1="1123.80" x2="1370.50" y2="1209.80" stroke="#6a6a6a" stroke-width="1.2" stroke-opacity="0.9"/>
<line x1="1219.30" y1="1166.80" x2="1370.50" y2="1123.80" stroke="#6a6a6a" stroke-width="1.2" stroke-opacity="0.9"/>
<line x1="1219.30" y1="1209.80" x2="1370.50" y2="822.80" stroke="#6a6a6a" stroke-width="1.2" stroke-opacity="0.9"/>
<line x1="1219.30" y1="1252.80" x2="1370.50" y2="822.80" stroke="#6a6a6a" stroke-width="1.2" stroke-opacity="0.9"/>
<line x1="1219.30" y1="1252.80" x2="1370.50" y2="865.80" stroke="#6a6a6a" stroke-width="1.2" stroke-opacity="0.9"/>
<line x1="1219.30" y1="1252.80" x2="1370.50" y2="1166.80" stroke="#6a6a6a" stroke-width="1.2" stroke-opacity="0.9"/>
<line x1="1219.30" y1="1252.80" x2="1370.50" y2="1123.80" stroke="#6a6a6a" stroke-width="1.2" stroke-opacity="0.9"/>
<line x1="1370.50" y1="822.80" x2="1522.00" y2="822.80" stroke="#6a6a6a" stroke-width="1.2" stroke-opacity="0.9"/>
<line x1="1370.50" y1="822.80" x2="1522.00" y2="994.80" stroke="#6a6a6a" stroke-width="1.2" stroke-opacity="0.9"/>
<line x1="1370.50" y1="822.80" x2="1522.00" y2="1166.80" stroke="#6a6a6a" stroke-width="1.2" stroke-opacity="0.9"/>
<line x1="1370.50" y1="822.80" x2="1522.00" y2="1166.80" stroke="#6a6a6a" stroke-width="1.2" stroke-opacity="0.9"/>
<line x1="1370.50" y1="822.80" x2="1522.00" y2="1209.80" stroke="#6a6a6a" stroke-width="1.2" stroke-opacity="0.9"/>
<line x1="1370.50" y1="822.80" x2="1522.00" y2="1252.80" stroke="#6a6a6a" stroke-width="1.2" stroke-opacity="0.9"/>
<line x1="1370.50" y1="865.80" x2="1522.00" y2="1166.80" stroke="#6a6a6a" stroke-width="1.2" stroke-opacity="0.9"/>
<line x1="1370.50" y1="951.80" x2="1522.00" y2="1166.80" stroke="#6a6a6a" stroke-width="1.2" stroke-opacity="0.9"/>
<line x1="1370.50" y1="994.80" x2="1522.00" y2="994.80" stroke="#6a6a6a" stroke-width="1.2" stroke-opacity="0.9"/>
<line x1="1370.50" y1="1037.80" x2="1522.00" y2="1166.80" stroke="#6a6a6a" stroke-width="1.2" stroke-opacity="0.9"/>
<line x1="1370.50" y1="1080.80" x2="1522.00" y2="1166.80" stroke="#6a6a6a" stroke-width="1.2" stroke-opacity="0.9"/>
<line x1="1370.50" y1="1080.80" x2="1522.00" y2="1123.80" stroke="#6a6a6a" stroke-width="1.2" stroke-opacity="0.9"/>
<line x1="1370.50" y1="1123.80" x2="1522.00" y2="1037.80" stroke="#6a6a6a" stroke-width="1.2" stroke-opacity="0.9"/>
<line x1="1370.50" y1="1123.80" x2="1522.00" y2="1166.80" stroke="#6a6a6a" stroke-width="1.2" stroke-opacity="0.9"/>
<line x1="1370.50" y1="1166.80" x2="1522.00" y2="1080.80" stroke="#6a6a6a" stroke-width="1.2" stroke-opacity="0.9"/>
<line x1="1370.50" y1="1166.80" x2="1522.00" y2="1166.80" stroke="#6a6a6a" stroke-width="1.2" stroke-opacity="0.9"/>
<line x1="1370.50" y1="1209.80" x2="1522.00" y2="908.80" stroke="#6a6a6a" stroke-width="1.2" stroke-opacity="0.9"/>
<line x1="1370.50" y1="1209.80" x2="1522.00" y2="1252.80" stroke="#6a6a6a" stroke-width="1.2" stroke-opacity="0.9"/>
<line x1="1370.50" y1="1209.80" x2="1522.00" y2="1166.80" stroke="#6a6a6a" stroke-width="1.2" stroke-opacity="0.9"/>
<line x1="1370.50" y1="1252.80" x2="1522.00" y2="1252.80" stroke="#6a6a6a" stroke-width="1.2" stroke-opacity="0.9"/>
<line x1="1370.50" y1="1252.80" x2="1522.00" y2="1080.80" stroke="#6a6a6a" stroke-width="1.2" stroke-opacity="0.9"/>
<line x1="1522.00" y1="822.80" x2="1673.50" y2="1252.80" stroke="#6a6a6a" stroke-width="1.2" stroke-opacity="0.9"/>
<line x1="1522.00" y1="908.80" x2="1673.50" y2="822.80" stroke="#6a6a6a" stroke-width="1.2" stroke-opacity="0.9"/>
<line x1="1522.00" y1="994.80" x2="1673.50" y2="822.80" stroke="#6a6a6a" stroke-width="1.2" stroke-opacity="0.9"/>
<line x1="1522.00" y1="994.80" x2="1673.50" y2="908.80" stroke="#6a6a6a" stroke-width="1.2" stroke-opacity="0.9"/>
<line x1="1522.00" y1="994.80" x2="1673.50" y2="1252.80" stroke="#6a6a6a" stroke-width="1.2" stroke-opacity="0.9"/>
<line x1="1522.00" y1="1037.80" x2="1673.50" y2="994.80" stroke="#6a6a6a" stroke-width="1.2" stroke-opacity="0.9"/>
<line x1="1522.00" y1="1080.80" x2="1673.50" y2="908.80" stroke="#6a6a6a" stroke-width="1.2" stroke-opacity="0.9"/>
<line x1="1522.00" y1="1123.80" x2="1673.50" y2="1037.80" stroke="#6a6a6a" stroke-width="1.2" stroke-opacity="0.9"/>
<line x1="1522.00" y1="1166.80" x2="1673.50" y2="822.80" stroke="#6a6a6a" stroke-width="1.2" stroke-opacity="0.9"/>
<line x1="1522.00" y1="1166.80" x2="1673.50" y2="865.80" stroke="#6a6a6a" stroke-width="1.2" stroke-opacity="0.9"/>
<line x1="1522.00" y1="1166.80" x2="1673.50" y2="951.80" stroke="#6a6a6a" stroke-width="1.2" stroke-opacity="0.9"/>
<line x1="1522.00" y1="1166.80" x2="1673.50" y2="994.80" stroke="#6a6a6a" stroke-width="1.2" stroke-opacity="0.9"/>
<line x1="1522.00" y1="1166.80" x2="1673.50" y2="1037.80" stroke="#6a6a6a" stroke-width="1.2" stroke-opacity="0.9"/>
<line x1="1522.00" y1="1166.80" x2="1673.50" y2="1080.80" stroke="#6a6a6a" stroke-width="1.2" stroke-opacity="0.9"/>
<line x1="1522.00" y1="1166.80" x2="1673.50" y2="865.80" stroke="#6a6a6a" stroke-width="1.2" stroke-opacity="0.9"/>
<line x1="1522.00" y1="1209.80" x2="1673.50" y2="1080.80" stroke="#6a6a6a" stroke-width="1.2" stroke-opacity="0.9"/>
<line x1="1522.00" y1="1252.80" x2="1673.50" y2="822.80" stroke="#6a6a6a" stroke-width="1.2" stroke-opacity="0.9"/>
<line x1="1522.00" y1="1252.80" x2="1673.50" y2="865.80" stroke="#6a6a6a" stroke-width="1.2" stroke-opacity="0.9"/>
<line x1="1522.00" y1="1252.80" x2="1673.50" y2="1209.80" stroke="#6a6a6a" stroke-width="1.2" stroke-opacity="0.9"/>
<line x1="1522.00" y1="1252.80" x2="1673.50" y2="1252.80" stroke="#6a6a6a" stroke-width="1.2" stroke-opacity="0.9"/>
<path d="M1127.7,801.0 L1127.7,1274.6 L1764.2,1274.6" fill="none" stroke="#262626" stroke-width="1.7" stroke-linejoin="round"/>
<line x1="1123.70" y1="801.30" x2="1127.70" y2="801.30" stroke="#262626" stroke-width="1.6" />
<text x="1120.0" y="811.7" font-size="33" text-anchor="end" fill="#262626" font-family="'DejaVu Sans', 'Liberation Sans', sans-serif" >15</text>
<line x1="1123.70" y1="908.80" x2="1127.70" y2="908.80" stroke="#262626" stroke-width="1.6" />
<text x="1120.0" y="919.2" font-size="33" text-anchor="end" fill="#262626" font-family="'DejaVu Sans', 'Liberation Sans', sans-serif" >10</text>
<line x1="1123.70" y1="1016.30" x2="1127.70" y2="1016.30" stroke="#262626" stroke-width="1.6" />
<text x="1120.0" y="1026.7" font-size="33" text-anchor="end" fill="#262626" font-family="'DejaVu Sans', 'Liberation Sans', sans-serif" >5</text>
<line x1="1123.70" y1="1123.80" x2="1127.70" y2="1123.80" stroke="#262626" stroke-width="1.6" />
<text x="1120.0" y="1134.2" font-size="33" text-anchor="end" fill="#262626" font-family="'DejaVu Sans', 'Liberation Sans', sans-serif" >0</text>
<line x1="1123.70" y1="1231.30" x2="1127.70" y2="1231.30" stroke="#262626" stroke-width="1.6" />
<text x="1120.0" y="1241.7" font-size="33" text-anchor="end" fill="#262626" font-family="'DejaVu Sans', 'Liberation Sans', sans-serif" >−5</text>
<line x1="1219.30" y1="1274.60" x2="1219.30" y2="1278.60" stroke="#262626" stroke-width="1.6" />
<text x="1219.3" y="1308.3" font-size="33" text-anchor="middle" fill="#262626" font-family="'DejaVu Sans', 'Liberation Sans', sans-serif" >Pre</text>
<line x1="1370.50" y1="1274.60" x2="1370.50" y2="1278.60" stroke="#262626" stroke-width="1.6" />
<text x="1370.5" y="1308.3" font-size="33" text-anchor="middle" fill="#262626" font-family="'DejaVu Sans', 'Liberation Sans', sans-serif" >A1</text>
<line x1="1522.00" y1="1274.60" x2="1522.00" y2="1278.60" stroke="#262626" stroke-width="1.6" />
<text x="1522.0" y="1308.3" font-size="33" text-anchor="middle" fill="#262626" font-family="'DejaVu Sans', 'Liberation Sans', sans-serif" >A2</text>
<line x1="1673.50" y1="1274.60" x2="1673.50" y2="1278.60" stroke="#262626" stroke-width="1.6" />
<text x="1673.5" y="1308.3" font-size="33" text-anchor="middle" fill="#262626" font-family="'DejaVu Sans', 'Liberation Sans', sans-serif" >A3</text>
<text x="1435.7" y="1346.6" font-size="34" text-anchor="middle" fill="#262626" font-family="'DejaVu Sans', 'Liberation Sans', sans-serif" >condition</text>
<text x="1057.3" y="1034.9" font-size="34.2" text-anchor="middle" fill="#262626" font-family="'DejaVu Sans', 'Liberation Sans', sans-serif" transform="rotate(-90 1057.3 1034.9)" >Peak correlation time-lag (s)</text>
<text x="1269.5" y="747.2" font-size="38" text-anchor="start" fill="#000" font-family="'DejaVu Sans', 'Liberation Sans', sans-serif" textLength="387.0" lengthAdjust="spacingAndGlyphs" >ACC-Spectral Slope</text>
<text x="1010.0" y="747.2" font-size="38" text-anchor="start" fill="#000" font-family="'DejaVu Sans', 'Liberation Sans', sans-serif" >D</text>
<line x1="1520.30" y1="806.40" x2="1671.10" y2="806.40" stroke="#000" stroke-width="2.5" />
<text x="1595.7" y="807.9" font-size="30" text-anchor="middle" fill="#333" font-family="'DejaVu Sans', 'Liberation Sans', sans-serif" >*</text>
</svg>
</body></html>
